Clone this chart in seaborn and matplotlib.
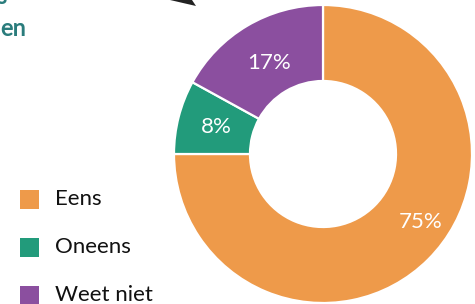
import numpy as np
import matplotlib
matplotlib.use("Agg")
import matplotlib.pyplot as plt
from matplotlib import font_manager as fm
from matplotlib.patches import Rectangle, Polygon
import seaborn as sns

categories = ["Eens", "Oneens", "Weet niet"]
values = [75, 8, 17]
labels = ["75%", "8%", "17%"]
colors = ["#EE9A4A", "#229B7B", "#8B4F9F"]

sns.set_theme(style="white")


def pick_font(family, weight):
    best = None
    for f in fm.fontManager.ttflist:
        if f.name == family and f.style == "normal":
            w = f.weight if isinstance(f.weight, int) else 400
            d = abs(w - weight)
            if best is None or d < best[0]:
                best = (d, f.fname)
    if best is None:
        return fm.FontProperties(family="DejaVu Sans", weight=weight)
    return fm.FontProperties(fname=best[1])


reg = pick_font("Lato", 400)
bold = pick_font("Lato", 700)
plt.rcParams["font.family"] = ["Lato", "DejaVu Sans"]

W, H = 475, 304
fig = plt.figure(figsize=(W / 100, H / 100), dpi=100)
fig.patch.set_facecolor("white")

# donut axes
cx, cy, R = 323, 154, 149
ax = fig.add_axes([(cx - R) / W, (H - cy - R) / H, 2 * R / W, 2 * R / H])
wedges, _ = ax.pie(values, colors=colors, startangle=90, counterclock=False,
                   radius=1.0, wedgeprops=dict(width=0.51, edgecolor="white", linewidth=1.6))
ax.set_xlim(-1, 1)
ax.set_ylim(-1, 1)
ax.set_aspect("equal")
ax.axis("off")

label_r = [0.80, 0.74, 0.71]
label_shift = [10, 0, 0]  # degrees: the big wedge's label sits a bit higher
for i, (w, lab) in enumerate(zip(wedges, labels)):
    mid = (w.theta1 + w.theta2) / 2 + label_shift[i]
    a = np.deg2rad(mid)
    t = ax.text(label_r[i] * np.cos(a), label_r[i] * np.sin(a), lab, color="white",
                ha="center", va="center", fontproperties=reg)
    t.set_fontsize(16)

# legend
rows_y = [199, 247, 295]
for cat, col, yc in zip(categories, colors, rows_y):
    fig.patches.append(Rectangle((20 / W, (H - yc - 9.5) / H), 19 / W, 19 / H,
                                 transform=fig.transFigure, facecolor=col, edgecolor="none"))
    t = fig.text(55 / W, (H - yc) / H, cat, color="#111111",
                 ha="left", va="center", fontproperties=reg)
    t.set_fontsize(16)

# cut-off title fragments
teal = "#2A7C7C"
t = fig.text(7 / W, (H - 4) / H, "s", color=teal, ha="right", va="baseline",
             fontproperties=bold)
t.set_fontsize(17)
t = fig.text(26 / W, (H - 36) / H, "en", color=teal, ha="right", va="baseline",
             fontproperties=bold)
t.set_fontsize(17)

# small arrow tip at top
fig.patches.append(Polygon([(170 / W, 1.0), (196 / W, (H - 6) / H), (192 / W, 1.0)],
                           closed=True, transform=fig.transFigure,
                           facecolor="#222222", edgecolor="none"))

fig.savefig("out.png", dpi=100, facecolor="white")
